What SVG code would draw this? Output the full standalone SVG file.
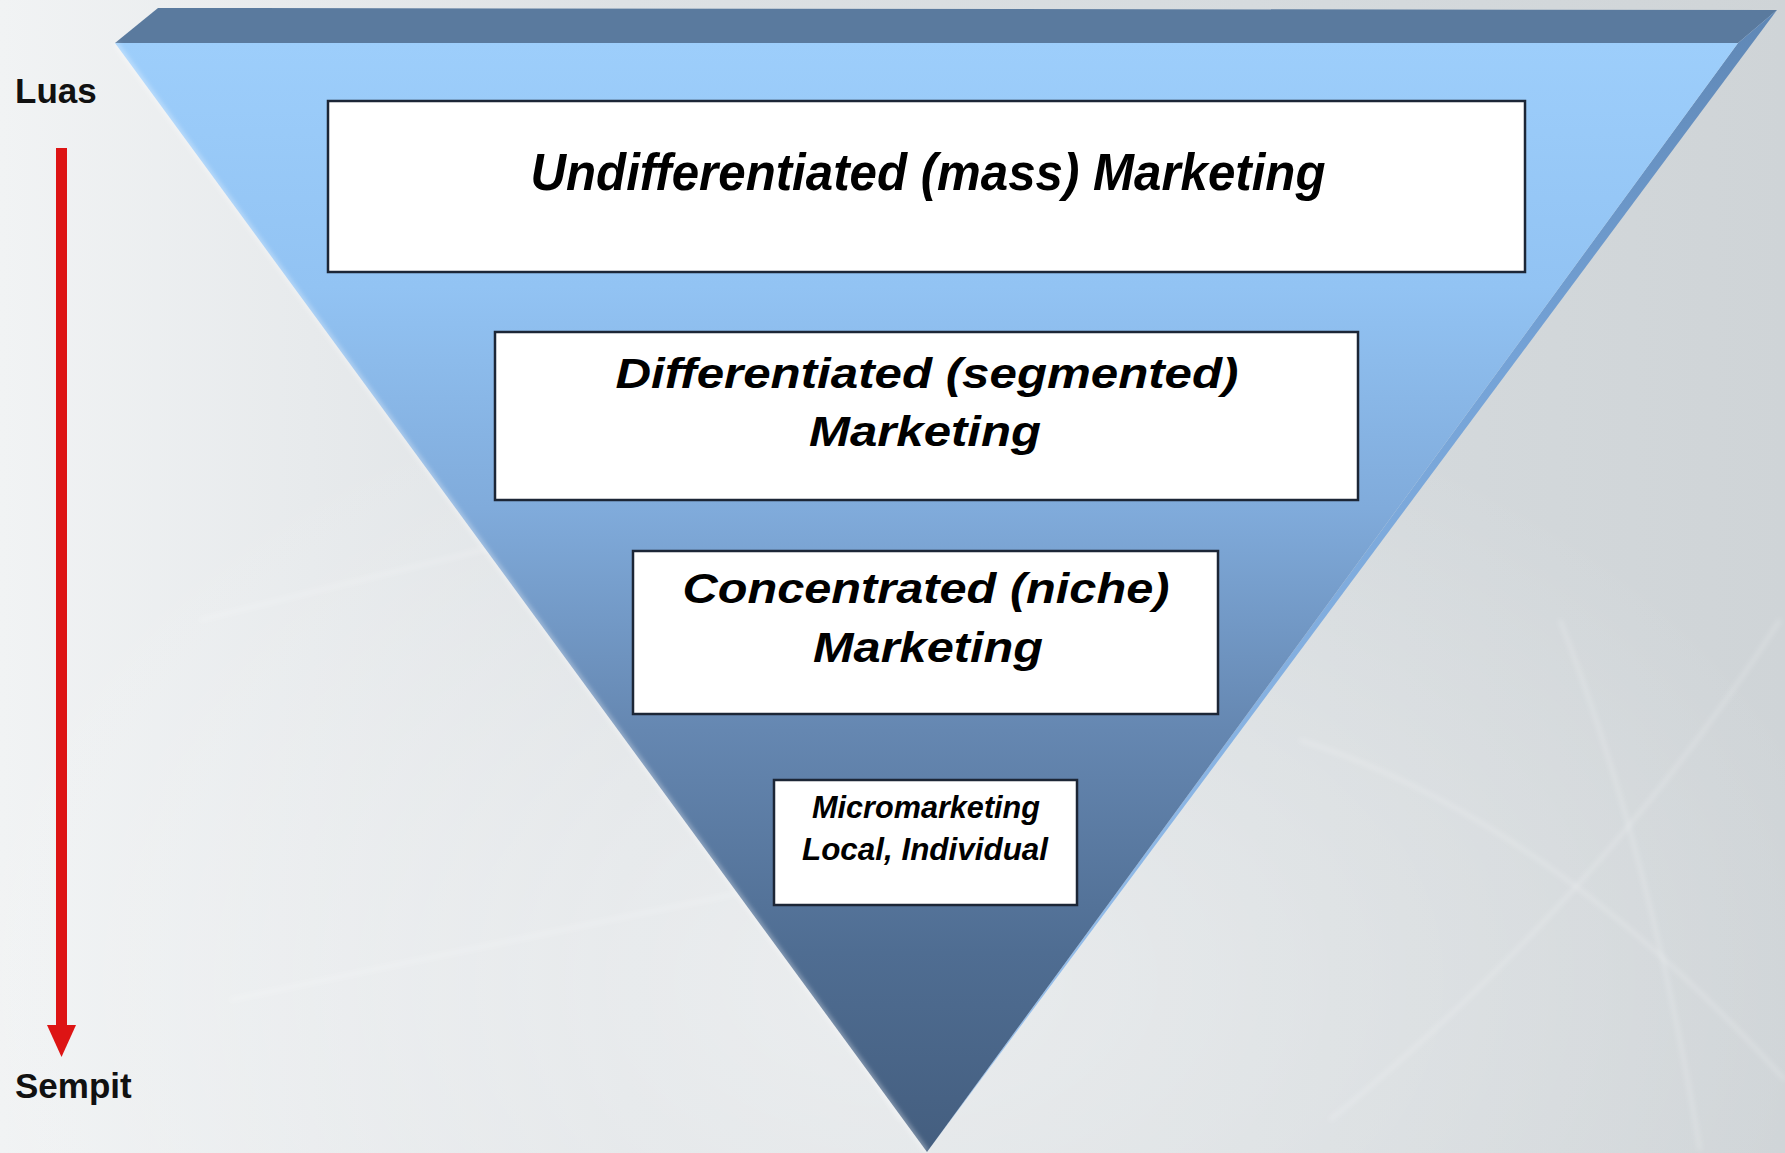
<svg xmlns="http://www.w3.org/2000/svg" width="1785" height="1153" viewBox="0 0 1785 1153">
  <defs>
    <style>
      .box { fill: #ffffff; stroke: #1c2636; stroke-width: 2.5; }
      .t { font-family: "Liberation Sans", Arial, sans-serif; font-weight: bold; font-style: italic; fill: #000000; text-anchor: middle; }
      .lbl { font-family: "Liberation Sans", Arial, sans-serif; font-weight: bold; font-size: 35px; fill: #111111; }
      .streak { fill: none; stroke: #ffffff; stroke-opacity: 0.25; stroke-width: 3; }
    </style>
    <linearGradient id="bgGrad" x1="0" y1="0" x2="1" y2="0">
      <stop offset="0" stop-color="#f1f3f4"/>
      <stop offset="0.35" stop-color="#dde1e4"/>
      <stop offset="0.7" stop-color="#d6dbde"/>
      <stop offset="1" stop-color="#cfd4d7"/>
    </linearGradient>
    <radialGradient id="glow" cx="0.5" cy="0.85" r="0.55">
      <stop offset="0" stop-color="#ffffff" stop-opacity="0.45"/>
      <stop offset="1" stop-color="#ffffff" stop-opacity="0"/>
    </radialGradient>
    <linearGradient id="frontGrad" gradientUnits="userSpaceOnUse" x1="0" y1="43" x2="0" y2="1152">
      <stop offset="0" stop-color="#9dcefb"/>
      <stop offset="0.22" stop-color="#92c3f3"/>
      <stop offset="0.42" stop-color="#80abdb"/>
      <stop offset="0.62" stop-color="#6587b1"/>
      <stop offset="0.82" stop-color="#4f6d92"/>
      <stop offset="1" stop-color="#445e7f"/>
    </linearGradient>
    <linearGradient id="sideGrad" gradientUnits="userSpaceOnUse" x1="0" y1="10" x2="0" y2="1152">
      <stop offset="0" stop-color="#5f87b5"/>
      <stop offset="0.3" stop-color="#74a2d6"/>
      <stop offset="1" stop-color="#9cc4ef"/>
    </linearGradient>
    <filter id="soft" x="-10%" y="-10%" width="120%" height="120%">
      <feGaussianBlur stdDeviation="2.5"/>
    </filter>
    <marker id="redHead" markerUnits="userSpaceOnUse" markerWidth="32" markerHeight="30" viewBox="0 -15 32 30" refX="0" refY="0" orient="auto">
      <path d="M0,-14.5 L32,0 L0,14.5 Z" fill="#dd1414"/>
    </marker>
  </defs>

  <!-- backdrop -->
  <rect x="0" y="0" width="1785" height="1153" fill="url(#bgGrad)"/>
  <rect x="0" y="0" width="1785" height="1153" fill="url(#glow)"/>
  <g filter="url(#soft)">
    <path class="streak" d="M200,620 Q600,520 980,430"/>
    <path class="streak" d="M230,1000 Q700,900 1100,820"/>
    <path class="streak" d="M480,330 Q650,700 900,1120"/>
    <path class="streak" d="M1300,740 Q1550,820 1785,1080"/>
    <path class="streak" d="M1330,1120 Q1600,900 1780,620"/>
    <path class="streak" d="M1560,620 Q1650,850 1700,1150"/>
  </g>

  <!-- inverted pyramid -->
  <g id="pyramid">
    <polygon points="115,43 158,8 1777,10 1738,43" fill="#5a7a9e"/>
    <polygon points="1738,43 1777,10 927,1152" fill="url(#sideGrad)"/>
    <polygon points="115,43 1738,43 927,1152" fill="url(#frontGrad)"/>
    <line x1="115" y1="43" x2="927" y2="1152" stroke="#ffffff" stroke-opacity="0.55" stroke-width="3" filter="url(#soft)"/>
  </g>

  <g id="node-undifferentiated">
    <rect class="box" x="328" y="101" width="1197" height="171"/>
    <text class="t" x="928" y="190" font-size="52" textLength="795" lengthAdjust="spacingAndGlyphs">Undifferentiated (mass) Marketing</text>
  </g>

  <g id="node-differentiated">
    <rect class="box" x="495" y="332" width="863" height="168"/>
    <text class="t" x="927" y="388" font-size="42" textLength="623" lengthAdjust="spacingAndGlyphs">Differentiated (segmented)</text>
    <text class="t" x="925" y="446" font-size="42" textLength="232" lengthAdjust="spacingAndGlyphs">Marketing</text>
  </g>

  <g id="node-concentrated">
    <rect class="box" x="633" y="551" width="585" height="163"/>
    <text class="t" x="926" y="603" font-size="42" textLength="487" lengthAdjust="spacingAndGlyphs">Concentrated (niche)</text>
    <text class="t" x="928" y="662" font-size="42" textLength="230" lengthAdjust="spacingAndGlyphs">Marketing</text>
  </g>

  <g id="node-micromarketing">
    <rect class="box" x="774" y="780" width="303" height="125"/>
    <text class="t" x="926" y="818" font-size="31" textLength="228" lengthAdjust="spacingAndGlyphs">Micromarketing</text>
    <text class="t" x="925" y="860" font-size="31" textLength="246" lengthAdjust="spacingAndGlyphs">Local, Individual</text>
  </g>

  <g id="node-luas">
    <text class="lbl" x="15" y="103">Luas</text>
  </g>
  <g id="node-sempit">
    <text class="lbl" x="15" y="1098">Sempit</text>
  </g>

  <!-- scale arrow from broad to narrow -->
  <g id="connectors">
    <line x1="61.5" y1="148" x2="61.5" y2="1025" stroke="#dd1414" stroke-width="11" marker-end="url(#redHead)"/>
  </g>
</svg>
